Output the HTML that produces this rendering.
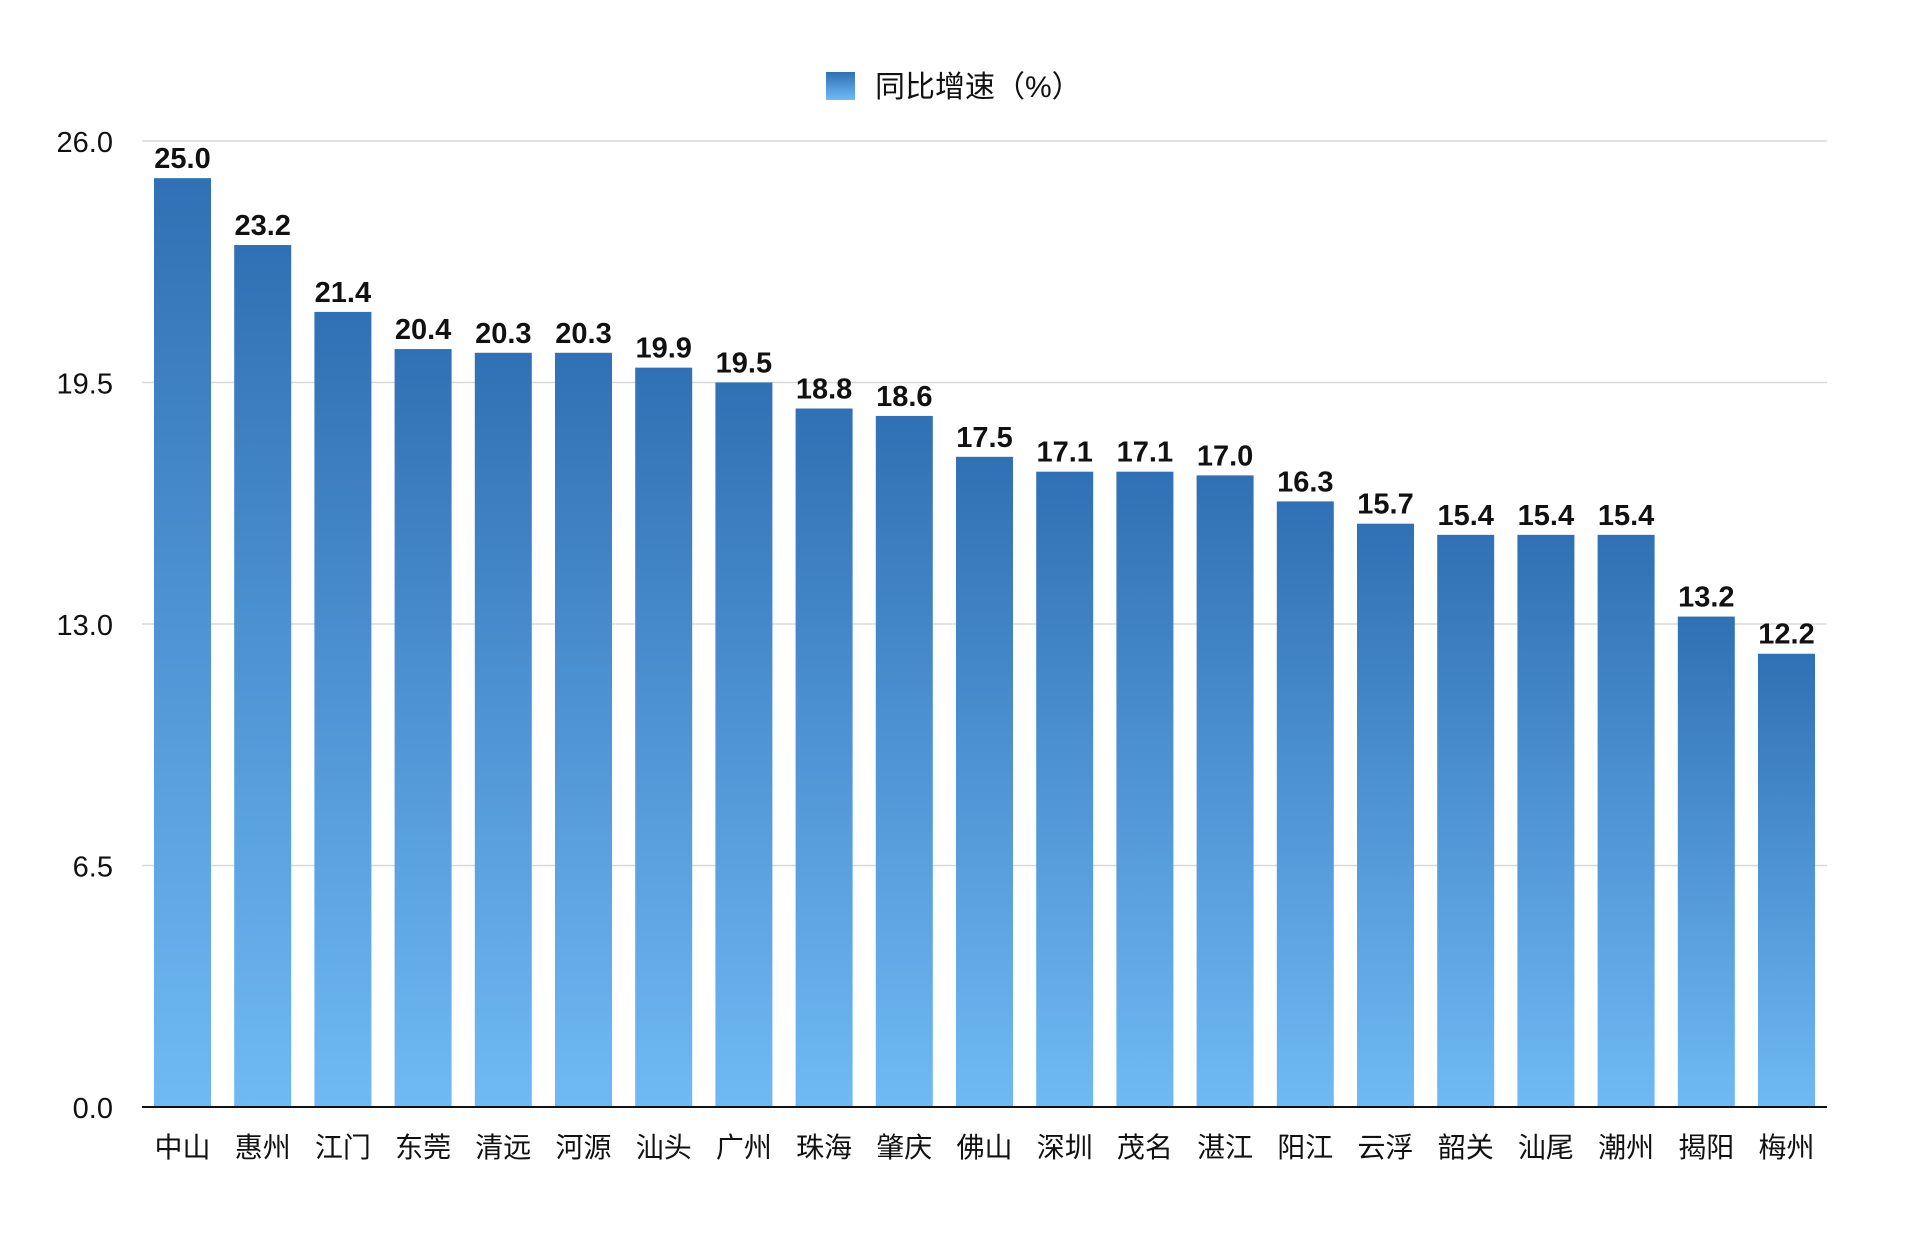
<!DOCTYPE html>
<html><head><meta charset="utf-8"><style>
html,body{margin:0;padding:0;background:#fff;}
svg{display:block;}
text{font-family:"Liberation Sans","Noto Sans CJK SC",sans-serif;}
</style></head><body>
<svg id="chart" width="1920" height="1245" viewBox="0 0 1920 1245">
<defs>
<linearGradient id="barGrad" x1="0" y1="0" x2="0" y2="1">
<stop offset="0" stop-color="#3070b4"/>
<stop offset="1" stop-color="#6fbaf5"/>
</linearGradient>
</defs>
<g>
<rect x="826" y="72" width="29" height="28" fill="url(#barGrad)"/>
<text x="875" y="97" font-size="30" fill="#111">同比增速（%）</text>
</g>
<g id="grid"></g>
<g id="bars"></g>
<g id="labels"></g>
<line x1="142" y1="1107" x2="1827" y2="1107" stroke="#111" stroke-width="2"/>
</svg>
<script>
const categories=["中山","惠州","江门","东莞","清远","河源","汕头","广州","珠海","肇庆","佛山","深圳","茂名","湛江","阳江","云浮","韶关","汕尾","潮州","揭阳","梅州"];
const values=[25.0,23.2,21.4,20.4,20.3,20.3,19.9,19.5,18.8,18.6,17.5,17.1,17.1,17.0,16.3,15.7,15.4,15.4,15.4,13.2,12.2];
const ticks=[0,6.5,13.0,19.5,26.0];
const tickLabels=["0.0","6.5","13.0","19.5","26.0"];
const NS="http://www.w3.org/2000/svg";
const y0=1107,yTop=141,yMax=26;
function yScale(v){return y0-(v/yMax)*(y0-yTop);}
function xScale(i){return 154+i*80.2;}
const bw=57;
const grid=document.getElementById('grid'),bars=document.getElementById('bars'),labels=document.getElementById('labels');
ticks.forEach((t,i)=>{
  const y=yScale(t);
  if(t>0){const l=document.createElementNS(NS,'line');
  l.setAttribute('x1',142);l.setAttribute('x2',1827);l.setAttribute('y1',y);l.setAttribute('y2',y);
  l.setAttribute('stroke','#d8d8d8');l.setAttribute('stroke-width','1.5');
  
  
  grid.appendChild(l);}
  const tx=document.createElementNS(NS,'text');
  tx.setAttribute('x',113);tx.setAttribute('y',y+11);tx.setAttribute('text-anchor','end');
  tx.setAttribute('font-size','29');tx.setAttribute('fill','#111');
  tx.textContent=tickLabels[i];
  
  
  labels.appendChild(tx);
});
values.forEach((v,i)=>{
  const x=xScale(i),y=yScale(v);
  const r=document.createElementNS(NS,'rect');
  r.setAttribute('x',x);r.setAttribute('y',y);r.setAttribute('width',bw);r.setAttribute('height',y0-y);
  r.setAttribute('fill','url(#barGrad)');
  
  
  bars.appendChild(r);
  const vt=document.createElementNS(NS,'text');
  vt.setAttribute('x',x+bw/2);vt.setAttribute('y',y-10);vt.setAttribute('text-anchor','middle');
  vt.setAttribute('font-size','29');vt.setAttribute('font-weight','bold');vt.setAttribute('fill','#111');
  vt.textContent=v.toFixed(1);
  
  
  labels.appendChild(vt);
  const ct=document.createElementNS(NS,'text');
  ct.setAttribute('x',x+bw/2);ct.setAttribute('y',1157);ct.setAttribute('text-anchor','middle');
  ct.setAttribute('font-size','28');ct.setAttribute('fill','#111');
  ct.textContent=categories[i];
  
  
  labels.appendChild(ct);
});
</script>
</body></html>
